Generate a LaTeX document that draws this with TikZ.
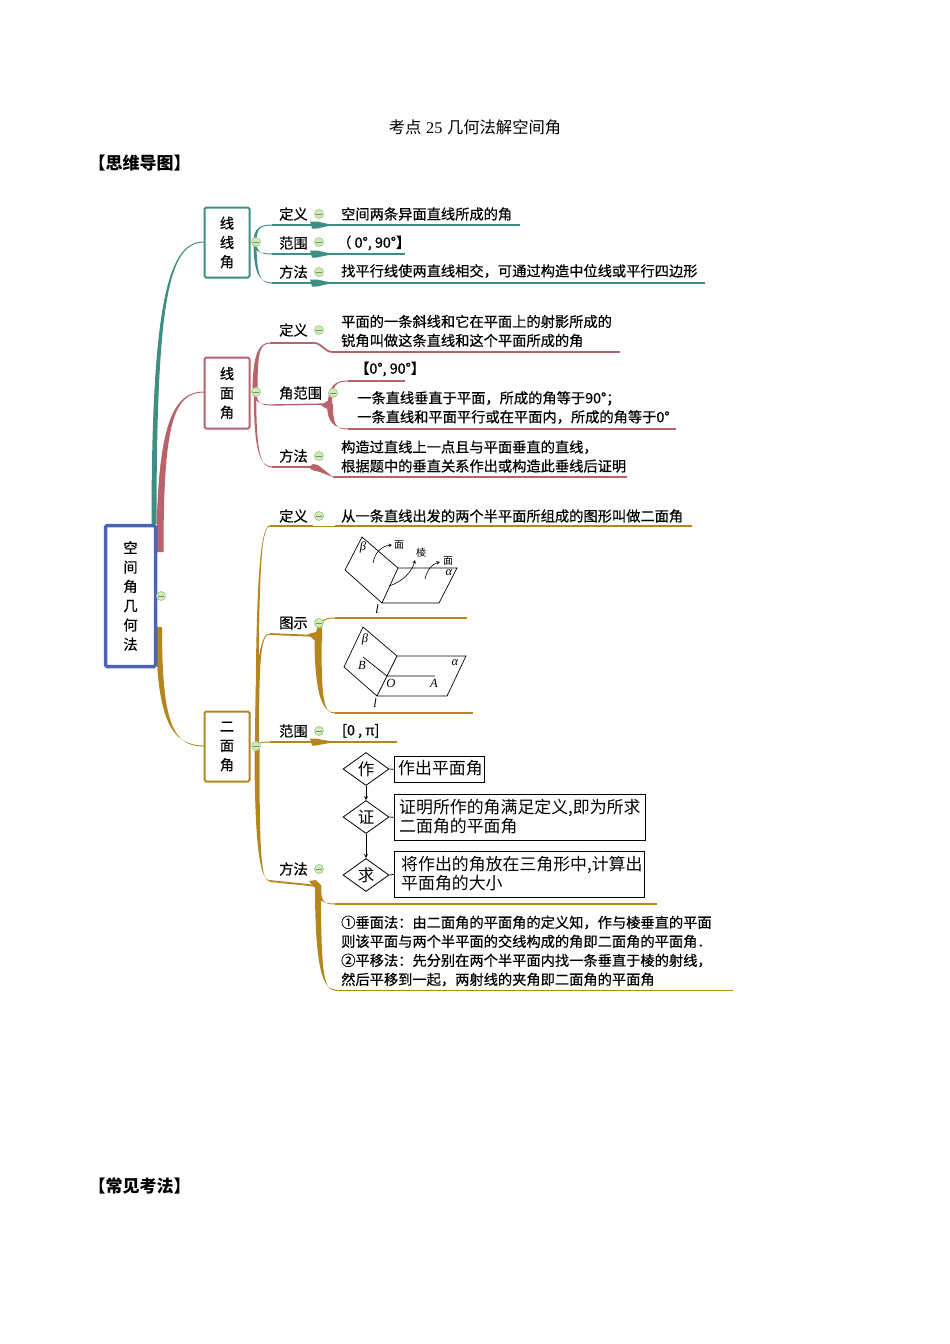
\documentclass[tikz,border=0pt]{standalone}
\usepackage{fontspec}
\setmainfont{Noto Sans CJK SC}
\newfontfamily\mapfont[FakeBold=0.5]{Noto Sans CJK SC}
\newfontfamily\figfont{Liberation Serif}
\usetikzlibrary{calc,shapes.geometric}
\definecolor{rootblue}{RGB}{75,100,180}
\definecolor{lineteal}{RGB}{62,142,132}
\definecolor{planerose}{RGB}{184,98,105}
\definecolor{dihedgold}{RGB}{181,133,30}
\definecolor{foldfill}{RGB}{212,234,186}
\definecolor{foldedge}{RGB}{165,205,145}
\definecolor{foldbar}{RGB}{110,150,100}
\tikzset{
  mainbox/.style={draw, rounded corners=1.5pt, line width=2pt, fill=white, align=center, inner sep=0pt, font=\mapfont\fontsize{14.25}{19.3}\selectfont},
  leaftext/.style={anchor=west, inner sep=0pt, align=left, font=\mapfont\fontsize{14.25}{19}\selectfont},
  foldmark/.style={circle, draw=foldedge, fill=foldfill, line width=.8pt, minimum size=9pt, inner sep=0pt,
    path picture={\draw[foldbar, line width=.7pt] ([xshift=1.5pt]path picture bounding box.west)--([xshift=-1.5pt]path picture bounding box.east);}},
  flowdia/.style={draw, diamond, aspect=1.4, line width=.8pt, inner sep=0pt, minimum width=46pt, minimum height=33pt, font=\fontsize{16.5}{18}\selectfont},
  flowbox/.style={draw, anchor=north west, line width=.8pt, align=left, inner sep=0pt},
  flowtext/.style={anchor=west, inner sep=0pt, align=left, font=\fontsize{16.9}{19}\selectfont},
  figlabel/.style={inner sep=0pt, font=\figfont\itshape\fontsize{12.5}{12.5}\selectfont},
  figcjk/.style={inner sep=0pt, font=\fontsize{10}{10}\selectfont}
}
% thick at the first point, thin at the second
\newcommand{\branchcurve}[4]{\fill[#1] let \p1=(#2), \p2=(#3) in
  (\x1-#4,\y1) .. controls (\x1-#4,{\y1+.8*(\y2-\y1)}) and ({\x2-.7*(\x2-\x1)},\y2+.5pt) .. (\x2,\y2+.5pt)
  -- (\x2,\y2-.5pt) .. controls ({\x2-.7*(\x2-\x1)},\y2-.5pt) and (\x1+#4,{\y1+.8*(\y2-\y1)}) .. (\x1+#4,\y1) -- cycle;}
\begin{document}
\begin{tikzpicture}[x=1pt, y=-1pt, >=stealth]
\useasboundingbox (0,0) rectangle (950,1344);

\node[inner sep=0pt, font=\fontsize{16.3}{18}\selectfont] (title) at (475,127) {考点\hspace{1pt} {\figfont 25}\hspace{1pt} 几何法解空间角};
\node[anchor=west, inner sep=0pt, font=\bfseries\fontsize{17}{18}\selectfont] (head1) at (88.5,163) {【思维导图】};
\node[anchor=west, inner sep=0pt, font=\bfseries\fontsize{17}{18}\selectfont] (head2) at (88.5,1186) {【常见考法】};

\coordinate (r1) at (154,524);
\coordinate (r2) at (160,552);
\coordinate (r3) at (159,627);
\coordinate (b1w) at (204,242);
\coordinate (b2w) at (204,392);
\coordinate (b3w) at (204,746);
\branchcurve{lineteal}{r1}{b1w}{2.5pt}
\branchcurve{planerose}{r2}{b2w}{3.5pt}
\branchcurve{dihedgold}{r3}{b3w}{3pt}

\node[mainbox, draw=rootblue, line width=3.5pt, minimum width=50pt, minimum height=141pt] (root) at (130.5,596) {空\\间\\角\\几\\何\\法};
\node[mainbox, draw=lineteal, minimum width=45pt, minimum height=70pt] (b1) at (227,242.5) {线\\线\\角};
\node[mainbox, draw=planerose, minimum width=45pt, minimum height=71pt] (b2) at (227,393) {线\\面\\角};
\node[mainbox, draw=dihedgold, minimum width=45pt, minimum height=70pt] (b3) at (227,746.5) {二\\面\\角};

% line-line angle
\coordinate (a0) at (255,242);
\coordinate (a1s) at (272,225);
\coordinate (a1m) at (333,225);
\coordinate (a1e) at (520,225);
\coordinate (a2s) at (272,254);
\coordinate (a2m) at (333,254);
\coordinate (a2e) at (405,254);
\coordinate (a3s) at (272,283);
\coordinate (a3m) at (333,283);
\coordinate (a3e) at (705,283);
\branchcurve{lineteal}{a0}{a1s}{1.5pt}
\branchcurve{lineteal}{a0}{a2s}{1.5pt}
\branchcurve{lineteal}{a0}{a3s}{1.5pt}
\foreach \k in {1,2,3}{
  \draw[lineteal, line width=1.8pt] (a\k s)--(a\k m)--(a\k e);
  \fill[lineteal] ($(a\k m)+(-23,-3.5)$)--($(a\k m)+(-16,-3.5)$)--(a\k m)--($(a\k m)+(-16,3.5)$)--($(a\k m)+(-21,3.5)$)--cycle;
}

% line-plane angle
\coordinate (c0) at (255,392);
\coordinate (c1s) at (270,343);
\coordinate (c1m) at (314,343);
\coordinate (c1n) at (333,352);
\coordinate (c1e) at (620,352);
\coordinate (c2s) at (272,405);
\coordinate (c2f) at (330,404);
\coordinate (c2u) at (348,381);
\coordinate (c2ue) at (405,381);
\coordinate (c2d) at (348,429);
\coordinate (c2de) at (676,429);
\coordinate (c3s) at (272,467);
\coordinate (c3m) at (312,467);
\coordinate (c3n) at (333,477);
\coordinate (c3e) at (627,477);
\branchcurve{planerose}{c0}{c1s}{2.5pt}
\branchcurve{planerose}{c0}{c2s}{1.5pt}
\branchcurve{planerose}{c0}{c3s}{1.2pt}
\draw[planerose, line width=1.8pt] (c1s)--(c1m) .. controls (322,343) and (324,352) .. (c1n)--(c1e);
\draw[planerose, line width=1.4pt] (c2s)--(c2f);
\branchcurve{planerose}{c2f}{c2u}{2pt}
\branchcurve{planerose}{c2f}{c2d}{3pt}
\draw[planerose, line width=1.8pt] (c2u)--(c2ue);
\draw[planerose, line width=1.8pt] (c2d)--(c2de);
\fill[planerose] (321,405)--(329,400)--(333,405)--(331,410)--(325,408)--cycle;
\draw[planerose, line width=1.4pt] (c3s)--(c3m);
\fill[planerose] (309,467)--(313,464)--(318,465)--(c3n)--(320,472)--(312,470)--cycle;
\draw[planerose, line width=1.8pt] (c3n)--(c3e);

% dihedral angle
\coordinate (d0) at (257,746);
\coordinate (d1s) at (270,526);
\coordinate (d1m) at (313,526);
\coordinate (d1n) at (335,526);
\coordinate (d1e) at (692,526);
\coordinate (d2s) at (270,634);
\coordinate (d2f) at (318,636);
\coordinate (d2u) at (335,618);
\coordinate (d2ue) at (467,618);
\coordinate (d2d) at (335,713);
\coordinate (d2de) at (473,713);
\coordinate (d3s) at (270,742);
\coordinate (d3m) at (335,742);
\coordinate (d3e) at (397,742);
\coordinate (d4s) at (270,881);
\coordinate (d4f) at (318,886);
\coordinate (d4u) at (335,904);
\coordinate (d4ue) at (657,904);
\coordinate (d4d) at (335,990);
\coordinate (d4de) at (733,990);
\branchcurve{dihedgold}{d0}{d1s}{1.5pt}
\branchcurve{dihedgold}{d0}{d2s}{2pt}
\branchcurve{dihedgold}{d0}{d3s}{1pt}
\branchcurve{dihedgold}{d0}{d4s}{2.5pt}
\draw[dihedgold, line width=1.8pt] (d1s)--(d1m);
\draw[dihedgold, line width=.7pt] (d1m)--(d1n);
\draw[dihedgold, line width=1.8pt] (d1n)--(d1e);
\draw[dihedgold, line width=1.8pt] (d2s)--(d2f);
\branchcurve{dihedgold}{d2f}{d2u}{2pt}
\branchcurve{dihedgold}{d2f}{d2d}{3.5pt}
\draw[dihedgold, line width=1.8pt] (d2u)--(d2ue);
\draw[dihedgold, line width=1.8pt] (d2d)--(d2de);
\fill[dihedgold] (308,634)--(316,632)--(322,627)--(322,642)--(314,640)--cycle;
\draw[dihedgold, line width=1.8pt] (d3s)--(d3m)--(d3e);
\fill[dihedgold] (310,738.5)--(316,738.5)--(d3m)--(316,745.5)--(312,745.5)--cycle;
\draw[dihedgold, line width=1.8pt] (d4s)--(d4f);
\branchcurve{dihedgold}{d4f}{d4u}{3pt}
\branchcurve{dihedgold}{d4f}{d4d}{3pt}
\draw[dihedgold, line width=1.8pt] (d4u)--(d4ue);
\draw[dihedgold, line width=.8pt] (d4d)--(d4de);
\fill[dihedgold] (309,881)--(316,880)--(321,885)--(321,892)--(314,887)--cycle;

% labels
\node[leaftext] (t11) at (279,214) {定义};
\node[leaftext] (t12) at (279,243) {范围};
\node[leaftext] (t13) at (279,272) {方法};
\node[leaftext] (t21) at (279,330) {定义};
\node[leaftext] (t22) at (279,393) {角范围};
\node[leaftext] (t23) at (279,456) {方法};
\node[leaftext] (t31) at (279,516) {定义};
\node[leaftext] (t32) at (279,623) {图示};
\node[leaftext] (t33) at (279,731) {范围};
\node[leaftext] (t34) at (279,869) {方法};

\node[leaftext] (x11) at (341,214) {空间两条异面直线所成的角};
\node[leaftext] (x12) at (337,243) {（ 0°, 90°】};
\node[leaftext] (x13) at (341,271) {找平行线使两直线相交，可通过构造中位线或平行四边形};
\node[leaftext] (x21) at (341,331) {平面的一条斜线和它在平面上的射影所成的\\锐角叫做这条直线和这个平面所成的角};
\node[leaftext] (x22) at (355,369) {【0°, 90°】};
\node[leaftext] (x23) at (357,407.5) {一条直线垂直于平面，所成的角等于90°；\\一条直线和平面平行或在平面内，所成的角等于0°};
\node[leaftext] (x24) at (341,456.5) {构造过直线上一点且与平面垂直的直线，\\根据题中的垂直关系作出或构造此垂线后证明};
\node[leaftext] (x31) at (341,516) {从一条直线出发的两个半平面所组成的图形叫做二面角};
\node[leaftext] (x33) at (342,731) {[0 , π]};
\node[leaftext] (x34) at (341,951) {①垂面法：由二面角的平面角的定义知，作与棱垂直的平面\\则该平面与两个半平面的交线构成的角即二面角的平面角．\\②平移法：先分别在两个半平面内找一条垂直于棱的射线，\\然后平移到一起，两射线的夹角即二面角的平面角};

% fold marks
\foreach \nm/\px/\py in {m0/161/596, m1/256/242, m2/256/392, m3/256/746, m11/319/214, m12/319/242, m13/319/272, m21/319/330, m22/333/393, m23/319/456, m31/319/516, m32/319/623, m33/319/731, m34/319/869}
  \node[foldmark] (\nm) at (\px,\py) {};

% first figure
\coordinate (fa) at (362,537);
\coordinate (fb) at (345,570);
\coordinate (fc) at (382,603);
\coordinate (fd) at (398,568);
\coordinate (fe) at (457,568);
\coordinate (ff) at (439,603);
\draw[line width=.7pt] (fd)--(fa)--(fb)--(fc)--(fd)--(fe)--(ff)--(fc);
\draw[->, line width=.6pt] (373,563) .. controls (375,552) and (382,546) .. (392,545);
\draw[->, line width=.6pt] (389,586) .. controls (402,582) and (412,572) .. (415,560);
\draw[->, line width=.6pt] (425,579) .. controls (427,570) and (432,564) .. (440,562);
\node[figlabel] (fbeta) at (363,547) {β};
\node[figlabel] (falpha) at (449,573) {α};
\node[figlabel] (fl) at (377,609) {l};
\node[figcjk] (fmian1) at (399,545) {面};
\node[figcjk] (fleng) at (421,553) {棱};
\node[figcjk] (fmian2) at (448,561) {面};

% second figure
\coordinate (ga) at (363,627);
\coordinate (gb) at (344,667);
\coordinate (gc) at (377,696);
\coordinate (gd) at (397,656);
\coordinate (ge) at (466,656);
\coordinate (gf) at (447,696);
\coordinate (gB) at (363,657);
\coordinate (gO) at (387,676);
\coordinate (gA) at (435,676);
\draw[line width=.7pt] (gd)--(ga)--(gb)--(gc)--(gd)--(ge)--(gf)--(gc);
\draw[line width=.7pt] (gB)--(gO)--(gA);
\node[figlabel] (gbeta) at (365,639) {β};
\node[figlabel] (galpha) at (455,663) {α};
\node[figlabel] (glB) at (362,665) {B};
\node[figlabel] (glO) at (391,683) {O};
\node[figlabel] (glA) at (434,683) {A};
\node[figlabel] (gl) at (375,703) {l};

% flow
\node[flowdia] (zuo) at (366,769) {作};
\node[flowdia] (zheng) at (366,817) {证};
\node[flowdia] (qiu) at (366,875) {求};
\node[flowbox, minimum width=90pt, minimum height=26pt] (bzuo) at (394,756) {};
\node[flowtext] (tzuo) at (398,768) {作出平面角};
\node[flowbox, minimum width=251pt, minimum height=46pt] (bzheng) at (394,794) {};
\node[flowtext] (tzheng) at (399,817) {证明所作的角满足定义,即为所求\\二面角的平面角};
\node[flowbox, minimum width=250pt, minimum height=46pt] (bqiu) at (394,851) {};
\node[flowtext] (tqiu) at (401,874) {将作出的角放在三角形中,计算出\\平面角的大小};
\draw[line width=.7pt] (zuo.east)--(bzuo.west);
\draw[line width=.7pt] (zheng.east)--(bzheng.west);
\draw[line width=.7pt] (qiu.east)--(bqiu.west);
\draw[->, line width=.8pt] (zuo)--(zheng);
\draw[->, line width=.8pt] (zheng)--(qiu);
\end{tikzpicture}
\end{document}
